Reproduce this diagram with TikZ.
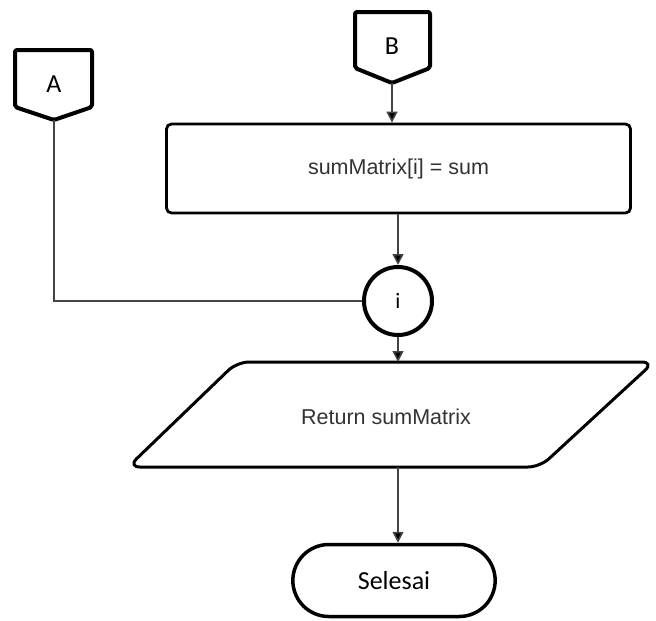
\documentclass[tikz,border=0pt]{standalone}
\usepackage{fontspec}
\setmainfont{Liberation Sans}
\newfontfamily\calibrifont{Carlito}
\usetikzlibrary{arrows.meta,shapes.misc}
\definecolor{txtgray}{HTML}{333333}
\definecolor{linegray}{HTML}{444444}
\tikzset{
  thickshape/.style={draw=black,line width=4pt,line join=round},
  procbox/.style={draw=black,line width=2.8pt,rounded corners=5pt,fill=white},
  conn/.style={draw=linegray,line width=1.6pt},
  arr/.style={conn,-{Triangle[length=11pt,width=11pt,fill=black]}},
  calitext/.style={font=\calibrifont\fontsize{26}{30}\selectfont,text=black},
  arialtext/.style={font=\fontsize{21.5}{25}\selectfont,text=txtgray},
}
\begin{document}
\begin{tikzpicture}[x=1pt,y=-1pt]
\useasboundingbox (0,0) rectangle (656,621);
% off-page connector A
\draw[thickshape,rounded corners=2pt] (15,50) -- (92,50) -- (92,107) -- (54,120) -- (15,107) -- cycle;
\node[calitext] (A) at (54,84) {A};
\coordinate (Atip) at (54,120);
% off-page connector B
\draw[thickshape,rounded corners=2pt] (355,12) -- (430,12) -- (430,68) -- (392,83) -- (355,68) -- cycle;
\node[calitext] (B) at (392,46) {B};
\coordinate (Btip) at (392,83);
% process box
\node[procbox,minimum width=464pt,minimum height=89pt,arialtext] (proc) at (398.5,168.5) {sumMatrix[i] = sum};
% circle connector
\node[thickshape,circle,minimum size=68pt,inner sep=0pt,calitext,font=\calibrifont\fontsize{22}{26}\selectfont] (i) at (398,301) {i};
% output parallelogram
\draw[draw=black,line width=3pt,rounded corners=12pt] (237,362) -- (654,362) -- (540,467) -- (128,467) -- cycle;
\node[arialtext] (ret) at (386,417) {Return sumMatrix};
\coordinate (retTop) at (398,362);
\coordinate (retBot) at (398,467);
% terminator
\node[draw=black,line width=3.5pt,rounded rectangle,minimum width=209pt,minimum height=72pt,calitext] (end) at (394,580.5) {Selesai};
% connectors
\draw[arr] (Btip) -- (Btip |- proc.north);
\draw[arr] (proc.south -| i.north) -- (i.north);
\draw[conn] (Atip) |- (i.west);
\draw[arr] (i.south) -- (retTop);
\draw[arr] (retBot) -- (retBot |- end.north);
\end{tikzpicture}
\end{document}
